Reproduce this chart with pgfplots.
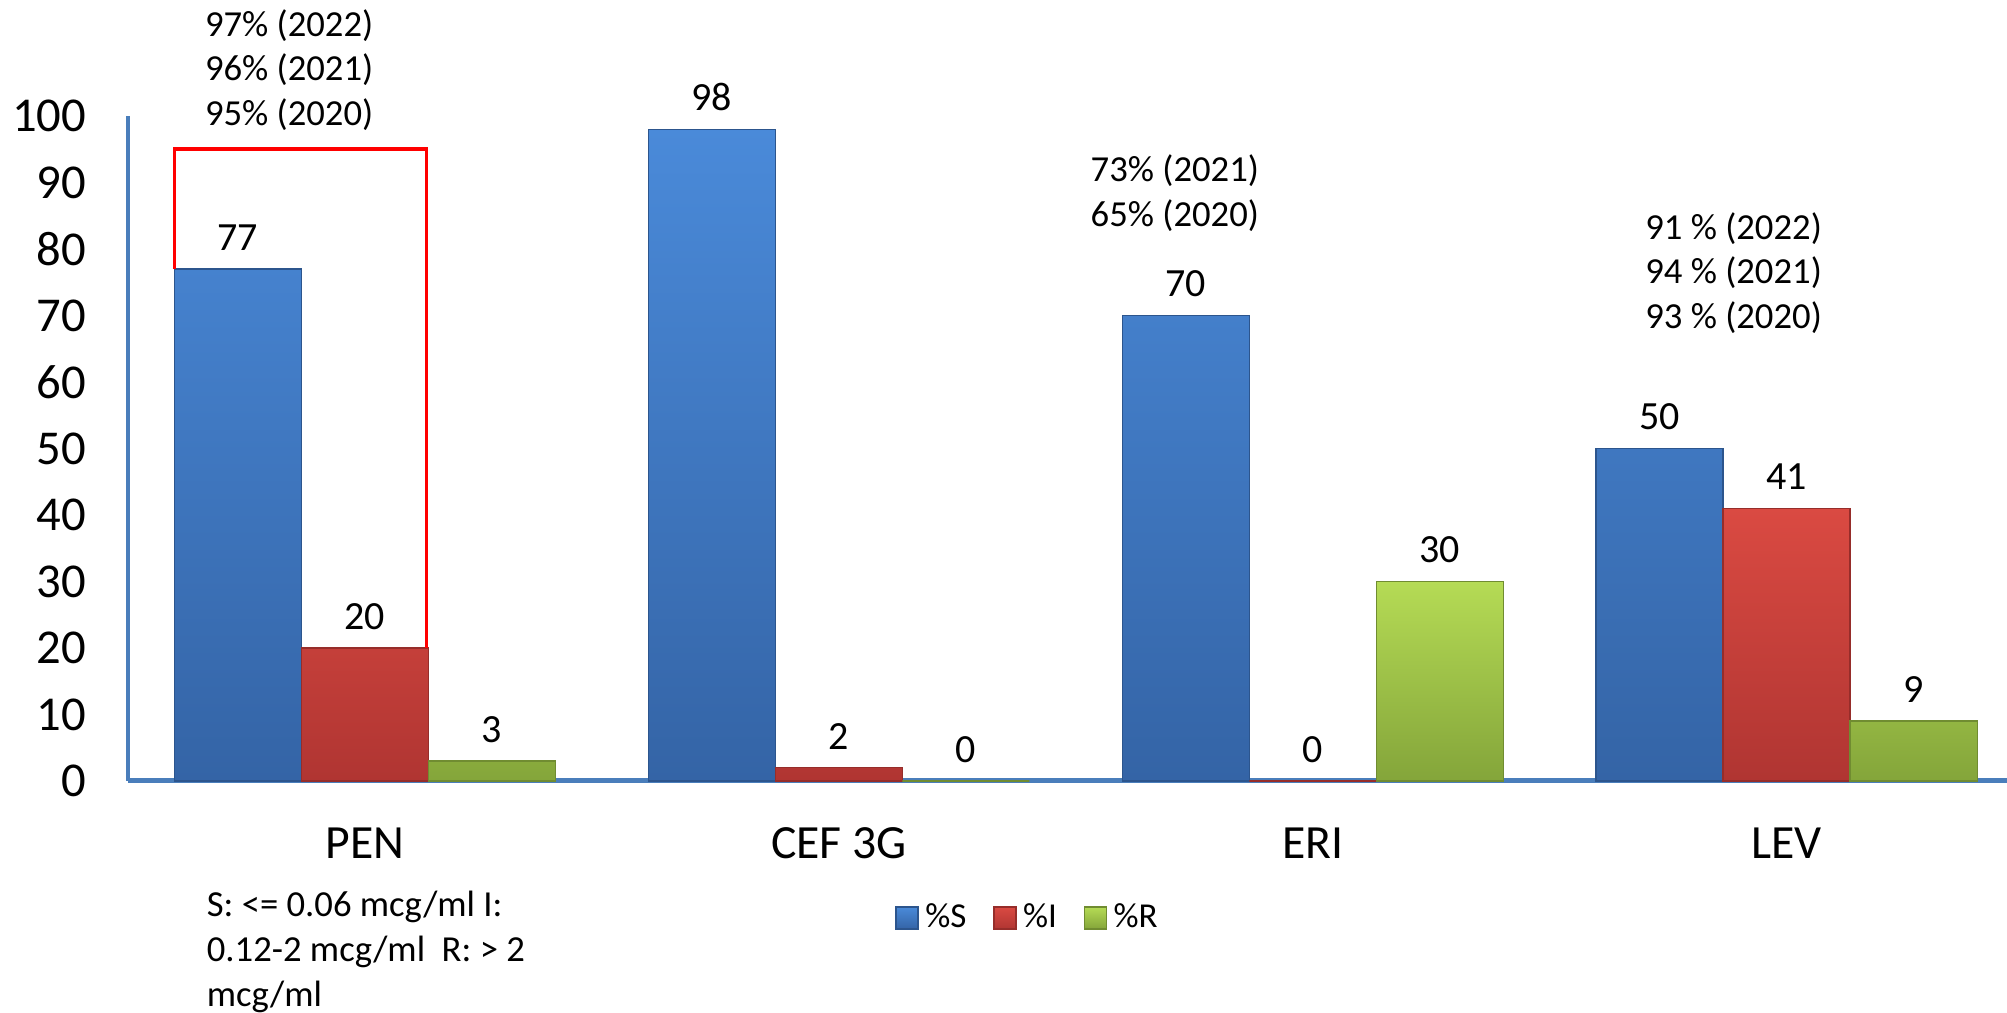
\documentclass[border=0pt]{standalone}
\usepackage{fontspec}
\setmainfont{Carlito}
\usepackage{pgfplots}
\pgfplotsset{compat=1.18}
\definecolor{axblue}{HTML}{4A7EBB}
\definecolor{sTop}{HTML}{4A8AD9}
\definecolor{sBot}{HTML}{3464A6}
\definecolor{iTop}{HTML}{DA4A42}
\definecolor{iBot}{HTML}{B03532}
\definecolor{rTop}{HTML}{B5DB55}
\definecolor{rBot}{HTML}{84A53A}

\begin{document}
\begin{tikzpicture}
\begin{axis}[
  scale only axis, width=563.7pt, height=199.5pt,
  ybar=0pt, bar width=0.268,
  xmin=-0.5, xmax=3.465, ymin=0, ymax=100,
  axis x line*=bottom, axis y line*=left,
  x axis line style={axblue, line width=1.5pt},
  y axis line style={axblue, line width=1.2pt},
  clip=false,
  /pgf/number format/assume math mode=true,
  ytick={0,10,...,100}, major tick length=0pt,
  xtick={0,1,2,3}, xticklabels={PEN,CEF 3G,ERI,LEV},
  yticklabel style={font=\fontsize{14.6}{17}\selectfont, xshift=-9pt},
  xticklabel style={font=\fontsize{14.3}{17}\selectfont, yshift=-10.5pt},
  nodes near coords,
  every node near coord/.append style={font=\fontsize{12}{14}\selectfont, yshift=2pt, black},
  legend style={at={(0.48,-0.206)}, anchor=center, draw=none, legend columns=-1,
    font=\fontsize{10.5}{12}\selectfont,
    /tikz/every even column/.append style={column sep=6pt}},
  legend image code/.code={\draw[#1] (0pt,-3.3pt) rectangle (6.6pt,3.3pt);},
]
\addplot[draw=sBot!85!black, top color=sTop, bottom color=sBot]
  coordinates {(0,77) (1,98) (2,70) (3,50)};
\addplot[draw=iBot!85!black, top color=iTop, bottom color=iBot]
  coordinates {(0,20) (1,2) (2,0) (3,41)};
\addplot[draw=rBot!85!black, top color=rTop, bottom color=rBot]
  coordinates {(0,3) (1,0) (2,30) (3,9)};
\legend{\%S, \%I, \%R}

% red frame round the PEN bars
\draw[red, line width=1.1pt] (axis cs:-0.402,77) -- (axis cs:-0.402,95)
  -- (axis cs:0.13,95) -- (axis cs:0.13,20);

\node[align=center, font=\fontsize{11}{13.4}\selectfont] at (axis cs:-0.16,106.9)
  {97\% (2022)\\96\% (2021)\\95\% (2020)};
\node[align=center, font=\fontsize{11}{13.4}\selectfont] at (axis cs:1.709,88.4)
  {73\% (2021)\\65\% (2020)};
\node[align=center, font=\fontsize{11}{13.4}\selectfont] at (axis cs:2.888,76.4)
  {91 \% (2022)\\94 \% (2021)\\93 \% (2020)};
\node[align=left, anchor=north west, inner sep=0pt, font=\fontsize{11}{13.4}\selectfont]
  at (axis cs:-0.335,-16.5)
  {S: <= 0.06 mcg/ml I:\\0.12-2 mcg/ml\ \ R: > 2\\mcg/ml};
\end{axis}
\pgfresetboundingbox
\path[use as bounding box] ([xshift=-38.4pt,yshift=-69.6pt]current axis.south west)
  rectangle ([yshift=34.8pt]current axis.north east);
\end{tikzpicture}
\end{document}
